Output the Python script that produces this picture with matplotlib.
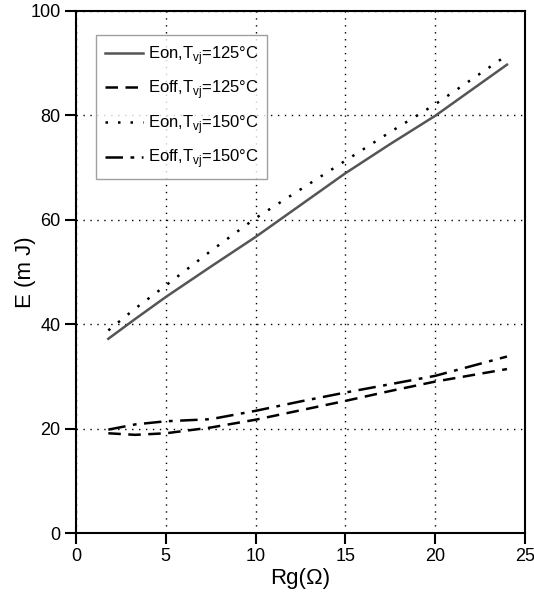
import matplotlib
matplotlib.use("Agg")
from matplotlib import pyplot as plt

### data
rg = [1.8, 3.3, 5, 7.5, 10, 12.5, 15, 17.5, 20, 24]
eon_125 = [37.2, 41.0, 45.2, 51.0, 56.7, 62.8, 68.9, 74.5, 79.9, 89.7]
eoff_125 = [19.1, 18.8, 19.1, 20.2, 21.7, 23.5, 25.3, 27.2, 29.0, 31.4]
eon_150 = [38.8, 43.0, 47.4, 54.0, 60.3, 65.8, 71.3, 76.8, 82.1, 91.5]
eoff_150 = [19.8, 20.8, 21.4, 21.8, 23.4, 25.2, 26.9, 28.5, 30.1, 33.8]

labels = [r"Eon,T$_{\mathregular{vj}}$=125°C",
          r"Eoff,T$_{\mathregular{vj}}$=125°C",
          r"Eon,T$_{\mathregular{vj}}$=150°C",
          r"Eoff,T$_{\mathregular{vj}}$=150°C"]

plt.rcParams['font.family'] = ['Liberation Sans Narrow', 'Liberation Sans', 'DejaVu Sans']

fig = plt.figure(figsize=(5.34, 6.05), dpi=100)
ax = fig.add_axes([0.1423, 0.119, 0.8407, 0.863])

ax.plot(rg, eon_125, color='#555555', linestyle='-', linewidth=1.8, label=labels[0])
ax.plot(rg, eoff_125, color='black', linestyle=(0, (5, 3)), linewidth=1.8, label=labels[1])
ax.plot(rg, eon_150, color='black', linestyle=(0, (1, 4)), linewidth=1.8, label=labels[2])
ax.plot(rg, eoff_150, color='black', linestyle=(0, (7, 3, 1.5, 3)), linewidth=1.8, label=labels[3])

ax.set_xlim(0, 25)
ax.set_ylim(0, 100)
ax.set_xticks([0, 5, 10, 15, 20, 25])
ax.set_yticks([0, 20, 40, 60, 80, 100])
ax.grid(True, color='black', linestyle=(0, (1, 4)), linewidth=1.0)
for s in ax.spines.values():
    s.set_linewidth(1.5)
ax.tick_params(direction='out', length=8, width=1.5, labelsize=13, pad=3)

ax.set_xlabel("Rg(Ω)", fontsize=16, labelpad=2)
ax.set_ylabel("E (m J)", fontsize=16, labelpad=2)
ax.yaxis.set_label_coords(-0.09, 0.5)

leg = ax.legend(loc='upper left', bbox_to_anchor=(0.045, 0.953), borderaxespad=0,
                fontsize=12, frameon=True, fancybox=False, edgecolor='#888888',
                handlelength=2.3, handletextpad=0.3, labelspacing=0.7,
                borderpad=0.5)
leg.get_frame().set_linewidth(1.0)

fig.savefig("out.png", dpi=100)
